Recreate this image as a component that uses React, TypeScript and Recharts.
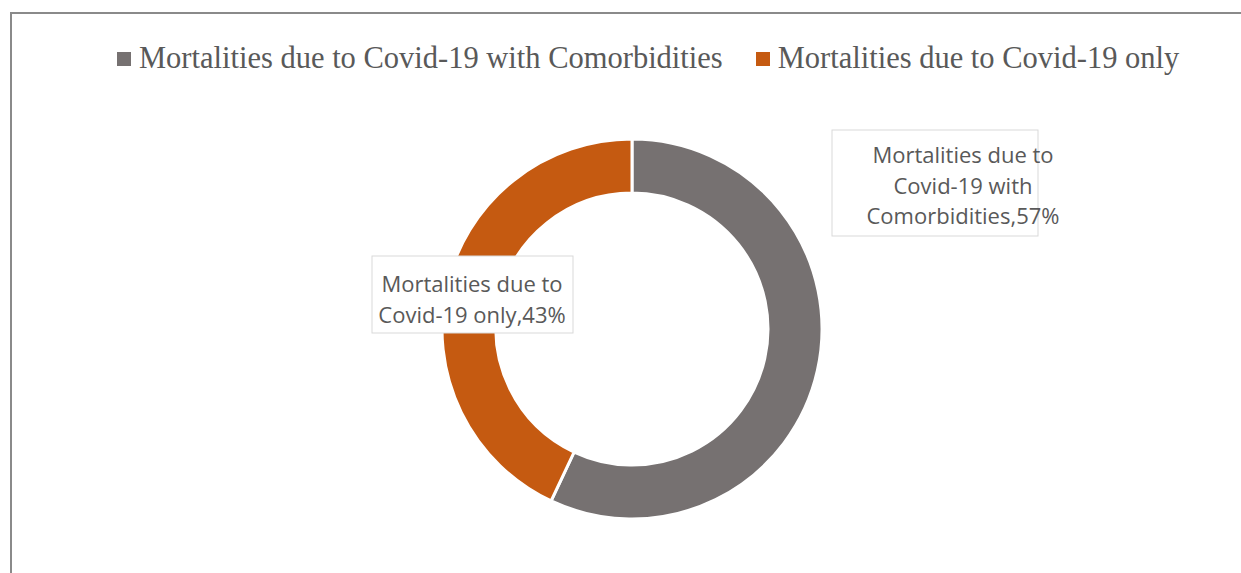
import { PieChart, Pie, Cell, Legend } from 'recharts';

const categories = ['Mortalities due to Covid-19 with Comorbidities', 'Mortalities due to Covid-19 only'];
const shares = [57, 43];
const colors = ['#767171', '#C55A11'];
const labelLines = [
  ['Mortalities due to', 'Covid-19 with', 'Comorbidities,57%'],
  ['Mortalities due to', 'Covid-19 only,43%'],
];

const data = categories.map((name, i) => ({ name, value: shares[i] }));

// label boxes are moved by hand, like Excel does; offsets are from the pie centre
const boxes = [
  { dx: 200, dy: -199, w: 206, h: 106, tx: 331, ty: -175 },
  { dx: -260, dy: -73, w: 201, h: 77, tx: -160, ty: -46 },
];

const renderLabel = (props: any) => {
  const { cx, cy, index } = props;
  const b = boxes[index];
  const lines = labelLines[index];
  const lineH = 30.5;
  return (
    <g>
      <rect x={cx + b.dx} y={cy + b.dy} width={b.w} height={b.h} fill="#fff" stroke="#D9D9D9" strokeWidth={1} />
      {lines.map((l, k) => (
        <text
          key={k}
          x={cx + b.tx}
          y={cy + b.ty + k * lineH}
          textAnchor="middle"
          dominantBaseline="central"
          fill="#595959"
          fontSize={22}
          fontFamily="'Open Sans', sans-serif"
        >
          {l}
        </text>
      ))}
    </g>
  );
};

const LegendContent = () => (
  <div style={{ display: 'flex', justifyContent: 'flex-start', fontFamily: "'Liberation Serif', serif", fontSize: 30.5, color: '#595959', paddingLeft: 117 }}>
    {categories.map((c, i) => (
      <div key={c} style={{ display: 'flex', alignItems: 'center', marginRight: i === 0 ? 33 : 0 }}>
        <span style={{ display: 'inline-block', width: 14, height: 14, background: colors[i], marginRight: 8 }} />
        <span>{c}</span>
      </div>
    ))}
  </div>
);

export default function App() {
  return (
    <div style={{ position: 'absolute', left: 0, top: 0, width: 1241, height: 573, background: '#fff', overflow: 'hidden' }}>
      <div style={{ position: 'absolute', left: 10, top: 12, width: 1300, height: 600, borderTop: '2px solid #8a8a8a', borderLeft: '2px solid #8a8a8a' }} />
      <div style={{ position: 'absolute', left: 0, top: 0 }}>
        <PieChart width={1241} height={573}>
          <Legend
            verticalAlign="top"
            content={<LegendContent />}
            wrapperStyle={{ top: 41, left: 0, width: 1241 }}
          />
          <Pie
            data={data}
            dataKey="value"
            nameKey="name"
            cx={627}
            cy={289}
            innerRadius={136}
            outerRadius={190}
            startAngle={90}
            endAngle={-270}
            stroke="#fff"
            strokeWidth={3}
            label={renderLabel}
            labelLine={false}
            isAnimationActive={false}
          >
            {data.map((d, i) => (
              <Cell key={d.name} fill={colors[i]} />
            ))}
          </Pie>
        </PieChart>
      </div>
    </div>
  );
}
